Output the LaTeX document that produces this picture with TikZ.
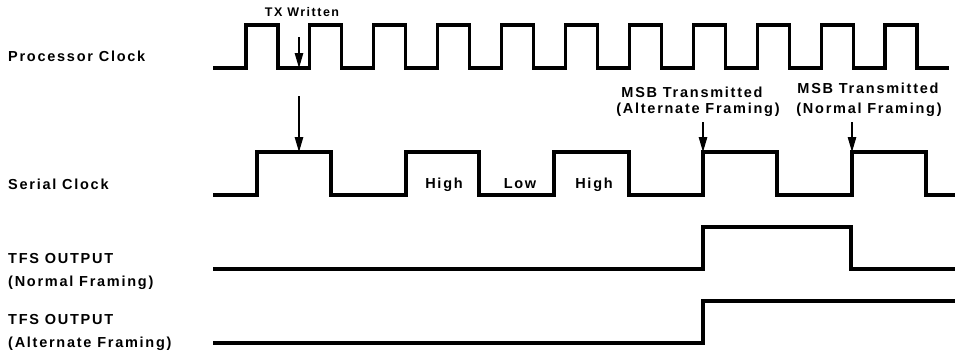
\documentclass[tikz,border=0pt]{standalone}
\usepackage{fontspec}
\newfontfamily\lblfont[LetterSpace=12]{Liberation Sans}
\usetikzlibrary{arrows.meta}
\begin{document}
\begin{tikzpicture}[x=1bp,y=-1bp,
  wave/.style={line width=3.1bp,line join=miter,line cap=rect},
  pointer/.style={line width=1.1bp,-{Triangle[length=15bp,width=8.5bp]}},
  lbl/.style={inner sep=0pt,font=\lblfont\bfseries\fontsize{14.5bp}{17bp}\selectfont},
  small/.style={inner sep=0pt,font=\lblfont\bfseries\fontsize{12.5bp}{15bp}\selectfont}]
\useasboundingbox (0,0) rectangle (955,356);
% labels on the left
\node[lbl,anchor=base west] (pc) at (8,61) {Processor Clock};
\node[lbl,anchor=base west] (sc) at (8,189) {Serial Clock};
\node[lbl,anchor=base west] (tn1) at (8,263) {TFS OUTPUT};
\node[lbl,anchor=base west] (tn2) at (8,286) {(Normal Framing)};
\node[lbl,anchor=base west] (ta1) at (8,324) {TFS OUTPUT};
\node[lbl,anchor=base west] (ta2) at (8,347) {(Alternate Framing)};
% processor clock
\draw[wave] (215,68) \foreach \k in {0,...,10} {
  -- ({246+63.9*\k},68) -- ({246+63.9*\k},25) -- ({278+63.9*\k},25) -- ({278+63.9*\k},68) }
  -- (947,68);
% serial clock
\draw[wave] (215,195) -- (257,195) -- (257,152) -- (331,152) -- (331,195)
  -- (406,195) -- (406,152) -- (479,152) -- (479,195)
  -- (554,195) -- (554,152) -- (629,152) -- (629,195)
  -- (703,195) -- (703,152) -- (777,152) -- (777,195)
  -- (852,195) -- (852,152) -- (926,152) -- (926,195) -- (954,195);
% TFS outputs
\draw[wave] (215,269) -- (703,269) -- (703,227) -- (851,227) -- (851,269) -- (955,269);
\draw[wave] (215,343) -- (703,343) -- (703,301) -- (955,301);
% serial clock state labels
\node[lbl,anchor=base] (h1) at (444,188) {High};
\node[lbl,anchor=base] (lo) at (520,188) {Low};
\node[lbl,anchor=base] (h2) at (594,188) {High};
% annotations
\node[small,anchor=base] (tx) at (302,16) {TX Written};
\coordinate (txs) at (299,37);
\coordinate (txe) at (299,68);
\draw[pointer] (txs) -- (txe);
\coordinate (scs) at (299,96);
\coordinate (sce) at (299,152);
\draw[pointer] (scs) -- (sce);
\node[lbl,anchor=base] (ma1) at (692,97) {MSB Transmitted};
\node[lbl,anchor=base] (ma2) at (698,113) {(Alternate Framing)};
\node[lbl,anchor=base] (mn1) at (868,93) {MSB Transmitted};
\node[lbl,anchor=base] (mn2) at (869,113) {(Normal Framing)};
\coordinate (mas) at (703,122);
\coordinate (mae) at (703,152);
\draw[pointer] (mas) -- (mae);
\coordinate (mns) at (852,122);
\coordinate (mne) at (852,152);
\draw[pointer] (mns) -- (mne);
\end{tikzpicture}
\end{document}
